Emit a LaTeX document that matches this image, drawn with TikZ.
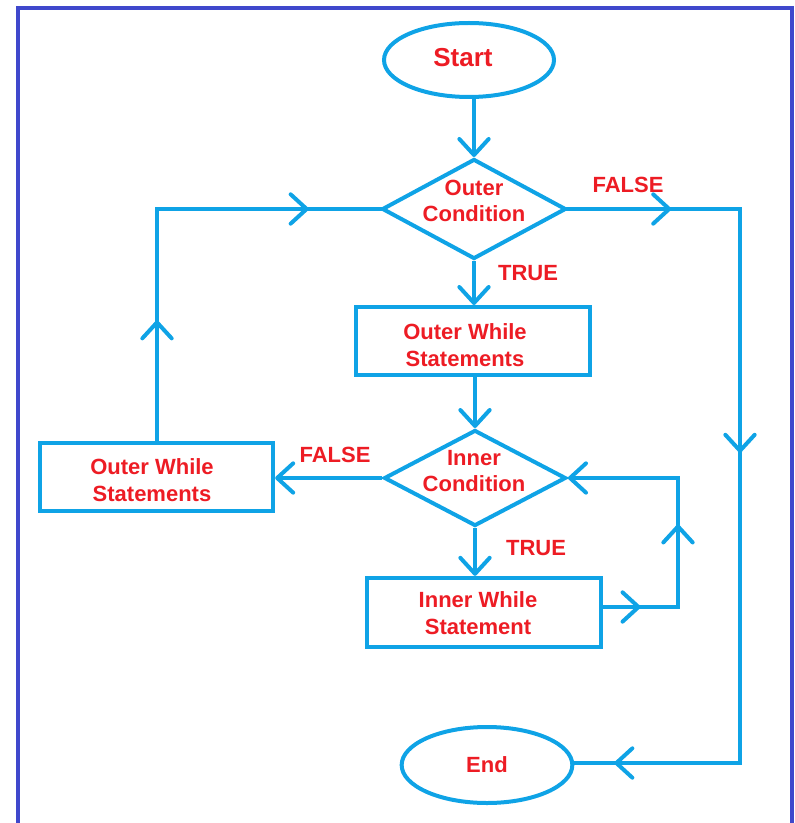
\documentclass[tikz,border=0pt]{standalone}
\usepackage{fontspec}
\setmainfont{Liberation Sans}
\usetikzlibrary{shapes.geometric,arrows.meta,decorations.markings}
\definecolor{flow}{HTML}{0FA3E6}
\definecolor{lbl}{HTML}{ED1C24}
\definecolor{frame}{HTML}{3F48CC}
\tikzset{
  flowline/.style={draw=flow, line width=3pt},
  box/.style={flowline, rectangle, inner sep=0pt},
  cond/.style={flowline, diamond, inner sep=0pt},
  term/.style={flowline, ellipse, inner sep=0pt},
  txt/.style={text=lbl, font=\fontsize{16.5}{20}\selectfont\bfseries, align=center, inner sep=0pt},
  chev/.tip={Straight Barb[length=12pt,width=22pt,round]},
  link/.style={flowline, -chev},
  leg/.style={flowline, line cap=rect},
  midtip/.style={postaction={decorate}, decoration={markings, mark=at position #1 with {\arrow{chev}}}},
}
\begin{document}
\begin{tikzpicture}[x=0.75pt, y=-0.75pt]
  \useasboundingbox (0,0) rectangle (794,823);
  % page frame (open at the bottom)
  \draw[frame, line width=3pt] (18,823) -- (18,8) -- (792,8) -- (792,823);

  % terminals
  \node[term, minimum width=127.5pt, minimum height=55.5pt] (st) at (469,60) {};
  \node[txt, font=\fontsize{19.5}{23}\selectfont\bfseries] (stt) at (463,58) {Start};
  \node[term, minimum width=128pt, minimum height=57pt] (en) at (487,765) {};
  \node[txt] (ent) at (487,765) {End};

  % decisions
  \node[cond, minimum width=138pt, minimum height=75pt] (oc) at (474,209) {};
  \node[txt] (oct) at (474,201) {Outer\\Condition};
  \node[cond, minimum width=136.5pt, minimum height=72pt] (ic) at (475,478) {};
  \node[txt] (ict) at (474,471) {Inner\\Condition};

  % statement boxes
  \node[box, minimum width=175.5pt, minimum height=51pt] (ob) at (473,341) {};
  \node[txt] (obt) at (465,345) {Outer While\\Statements};
  \node[box, minimum width=175pt, minimum height=51pt] (lb) at (156.5,477) {};
  \node[txt] (lbt) at (152,480) {Outer While\\Statements};
  \node[box, minimum width=175.5pt, minimum height=52pt] (ib) at (484,612.5) {};
  \node[txt] (ibt) at (478,613) {Inner While\\Statement};

  % branch labels
  \node[txt] (f1) at (628,185) {FALSE};
  \node[txt] (t1) at (528,273) {TRUE};
  \node[txt] (f2) at (335,455) {FALSE};
  \node[txt] (t2) at (536,548) {TRUE};

  % bends
  \coordinate (c1) at (740,209);
  \coordinate (c2) at (740,763);
  \coordinate (c3) at (678,607);
  \coordinate (c4) at (678,478);
  \coordinate (c5) at (157,209);

  % main flow
  \draw[link] (oc.north |- st.south) -- (oc.north);
  \draw[link] (oc.south) -- (ob.north -| oc.south);
  \draw[link] (ob.south -| ic.north) -- (ic.north);
  \draw[link] (ic.south) -- (ic.south |- ib.north);
  \draw[link] (ic.west) -- (ic.west -| lb.east);

  % outer FALSE exit to End
  \draw[leg, midtip=0.6] (oc.east) -- (c1);
  \draw[leg, midtip=0.44] (c1) -- (c2);
  \draw[leg, midtip=-30pt] (c2) -- (en.east |- c2);

  % inner loop back
  \draw[leg, midtip=0.5] (ib.east |- c3) -- (c3);
  \draw[leg, midtip=0.64] (c3) -- (c4);
  \draw[link] (c4) -- (ic.east);

  % outer loop back
  \draw[leg, midtip=0.52] (lb.north -| c5) -- (c5);
  \draw[leg, midtip=0.68] (c5) -- (oc.west);
\end{tikzpicture}
\end{document}
